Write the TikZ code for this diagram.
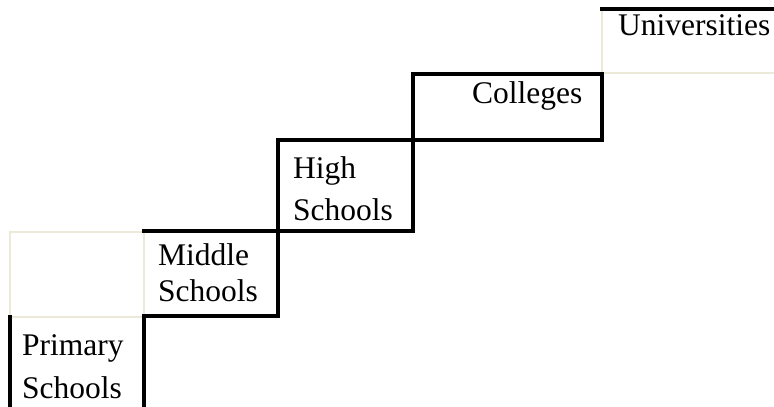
\documentclass[tikz,border=0pt]{standalone}
\usepackage{fontspec}
\setmainfont{Liberation Serif}
\definecolor{cellline}{RGB}{236,233,216}
\begin{document}
\begin{tikzpicture}[x=1pt,y=-1pt,
  thickline/.style={line width=3.4pt, black, line cap=rect, line join=miter},
  lightline/.style={line width=2pt, cellline},
  lbl/.style={anchor=base west, inner sep=0pt, font=\fontsize{31.5}{36}\selectfont}]
\useasboundingbox (0,0) rectangle (774,407);
\clip (0,0) rectangle (774,407);
% light cell borders
\draw[lightline] (10,232) rectangle (144,317);
\draw[lightline] (602,9) -- (602,73) -- (780,73);
% black cell borders
\draw[thickline] (10,317) -- (10,412);
\draw[thickline] (144,317) -- (144,412);
\draw[thickline] (144,316) -- (278,316) -- (278,140) -- (602,140) -- (602,74) -- (413,74) -- (413,231) -- (144,231);
\draw[thickline] (602,9) -- (780,9);
% texts
\node[lbl] (uni)   at (618,35)  {Universities};
\node[lbl] (col)   at (472,103) {Colleges};
\node[lbl] (high1) at (293,178) {High};
\node[lbl] (high2) at (293,220) {Schools};
\node[lbl] (mid1)  at (158,265) {Middle};
\node[lbl] (mid2)  at (158,301) {Schools};
\node[lbl] (prim1) at (22,355)  {Primary};
\node[lbl] (prim2) at (22,398)  {Schools};
\end{tikzpicture}
\end{document}
